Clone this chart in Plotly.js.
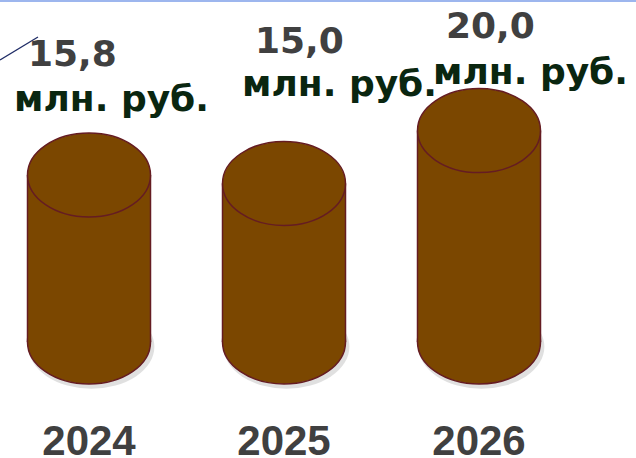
<!DOCTYPE html>
<html>
<head>
<meta charset="utf-8">
<script src="https://cdn.plot.ly/plotly-3.0.1.min.js"></script>
<style>html,body{margin:0;padding:0;background:#fff;}#chart{width:636px;height:458px;}</style>
</head>
<body>
<div id="chart"></div>
<script>
// ---- data ----
const years = ["2024", "2025", "2026"];
const values = [15.8, 15.0, 20.0];
const unitLabel = "млн. руб.";

// ---- layout constants ----
const W = 636, H = 458;
const marginB = 46;
const plotH = H - marginB;
const pxPerUnit = 10.57;        // vertical scale
const basePx = 342;             // pixel row of value 0
const catSpacing = 195;         // pixels per category
const firstCatPx = 89;          // pixel column of first category
const cylWidthPx = 123;
const ellipseRyPx = 42;

const brown = "#7B4700";
const edge = "#651C22";

const yTop = basePx / pxPerUnit;
const yBottom = (basePx - plotH) / pxPerUnit;
const xLeft = -firstCatPx / catSpacing;
const xRight = xLeft + W / catSpacing;
const hw = cylWidthPx / catSpacing / 2;
const ry = ellipseRyPx / pxPerUnit;

const fmt = v => v.toFixed(1).replace(".", ",");

const shapes = [];
values.forEach((v, i) => {
  // soft shadow
  shapes.push({type: "circle", xref: "x", yref: "y", layer: "below",
    x0: i - hw + 0.005, x1: i + hw + 0.02, y0: -ry - 0.45, y1: ry - 0.45,
    fillcolor: "rgba(0,0,0,0.12)", line: {width: 0}});
  // bottom ellipse
  shapes.push({type: "circle", xref: "x", yref: "y", layer: "below",
    x0: i - hw, x1: i + hw, y0: -ry, y1: ry,
    fillcolor: brown, line: {color: edge, width: 1.5}});
  // side edges
  shapes.push({type: "line", xref: "x", yref: "y", layer: "above",
    x0: i - hw, x1: i - hw, y0: 0, y1: v, line: {color: edge, width: 1.5}});
  shapes.push({type: "line", xref: "x", yref: "y", layer: "above",
    x0: i + hw, x1: i + hw, y0: 0, y1: v, line: {color: edge, width: 1.5}});
  // top ellipse
  shapes.push({type: "circle", xref: "x", yref: "y", layer: "above",
    x0: i - hw, x1: i + hw, y0: v - ry, y1: v + ry,
    fillcolor: brown, line: {color: edge, width: 1.5}});
});

// decorations
shapes.push({type: "line", xref: "paper", yref: "paper",
  x0: 0, x1: 1, y0: 1 - 1 / plotH, y1: 1 - 1 / plotH,
  line: {color: "#9DB6EE", width: 2}});
shapes.push({type: "line", xref: "paper", yref: "paper",
  x0: 0, x1: 38 / W, y0: 1 - 60 / plotH, y1: 1 - 37 / plotH,
  line: {color: "#1F2C66", width: 1.3}});

// label placement (pixel centres) — layout only
const valueLabelPx = [[72, 53], [299, 41], [490, 26]];
const unitLabelPx = [[112, 98], [339, 83], [530, 71]];

const annotations = [];
values.forEach((v, i) => {
  annotations.push({xref: "paper", yref: "paper",
    x: valueLabelPx[i][0] / W, y: 1 - valueLabelPx[i][1] / plotH,
    xanchor: "center", yanchor: "middle", showarrow: false,
    text: fmt(v),
    font: {family: "DejaVu Sans", size: 36, color: "#404040", weight: "bold"}});
  annotations.push({xref: "paper", yref: "paper",
    x: unitLabelPx[i][0] / W, y: 1 - unitLabelPx[i][1] / plotH,
    xanchor: "center", yanchor: "middle", showarrow: false,
    text: unitLabel,
    font: {family: "DejaVu Sans", size: 36, color: "#0A2610", weight: "bold"}});
});

const trace = {
  type: "bar",
  x: years.map((_, i) => i),
  y: values,
  base: 0,
  width: cylWidthPx / catSpacing,
  marker: {color: brown, line: {width: 0}},
  hoverinfo: "skip"
};

const layout = {
  width: W, height: H,
  margin: {l: 0, r: 0, t: 0, b: marginB, pad: 0},
  paper_bgcolor: "#ffffff",
  plot_bgcolor: "rgba(0,0,0,0)",
  showlegend: false,
  xaxis: {
    range: [xLeft, xRight], tickmode: "array",
    tickvals: years.map((_, i) => i), ticktext: years,
    showgrid: false, zeroline: false, showline: false, ticks: "",
    tickfont: {family: "Liberation Sans", size: 42, color: "#404040", weight: "bold"},
    fixedrange: true
  },
  yaxis: {range: [yBottom, yTop], visible: false, fixedrange: true},
  shapes: shapes,
  annotations: annotations
};

Plotly.newPlot("chart", [trace], layout, {staticPlot: true, displayModeBar: false});
</script>
</body>
</html>
